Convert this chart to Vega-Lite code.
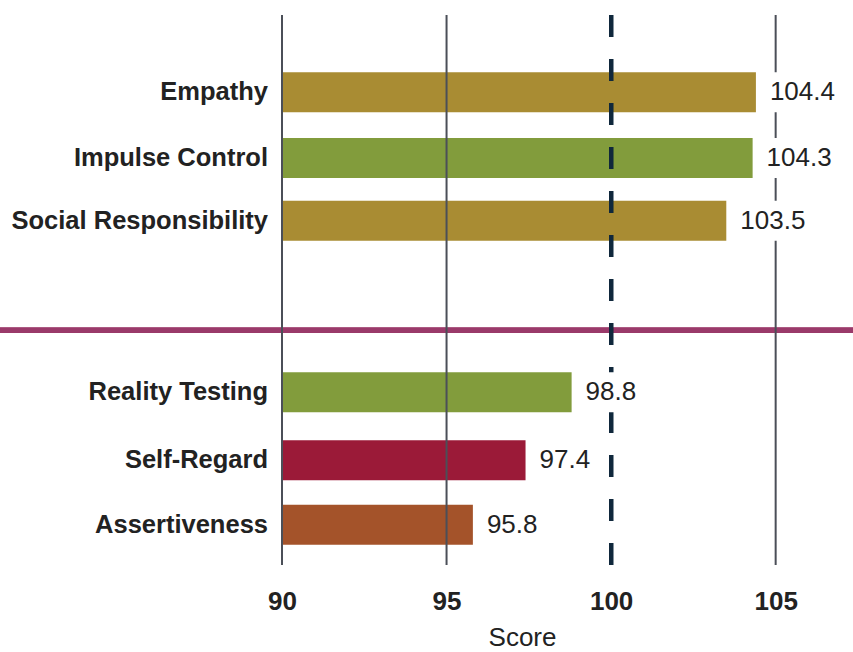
{
  "$schema": "https://vega.github.io/schema/vega-lite/v6.json",
  "autosize": {"type": "none"},
  "padding": {"left": 282, "top": 15, "right": 0, "bottom": 87},
  "width": 571,
  "height": 550,
  "background": "white",
  "config": {"view": {"stroke": null}, "font": "Liberation Sans"},
  "datasets": {
    "scores": [
      {"scale": "Empathy", "composite": "Interpersonal", "score": 104.4, "pos": 1},
      {"scale": "Impulse Control", "composite": "Decision Making", "score": 104.3, "pos": 2},
      {"scale": "Social Responsibility", "composite": "Interpersonal", "score": 103.5, "pos": 2.95},
      {"scale": "Reality Testing", "composite": "Decision Making", "score": 98.8, "pos": 5.55},
      {"scale": "Self-Regard", "composite": "Self-Perception", "score": 97.4, "pos": 6.58},
      {"scale": "Assertiveness", "composite": "Self-Expression", "score": 95.8, "pos": 7.56}
    ],
    "refs": [{"v": 90}, {"v": 95}, {"v": 105}]
  },
  "data": {"name": "scores"},
  "layer": [
    {
      "mark": {"type": "bar", "orient": "horizontal", "size": 40},
      "encoding": {
        "y": {"field": "pos", "type": "quantitative", "scale": {"domain": [-0.17, 8.17], "reverse": true, "nice": false, "zero": false, "padding": 0}, "axis": null},
        "x": {"field": "score", "type": "quantitative", "scale": {"domain": [90, 107.35], "nice": false, "zero": false, "padding": 0},
              "axis": {"values": [90, 95, 100, 105], "domain": false, "ticks": false, "grid": false, "labelFlush": false, "labelFont": "Liberation Sans", "labelFontSize": 26, "labelFontWeight": "bold", "labelColor": "#222222", "labelPadding": 23, "title": "Score", "titleX": 240, "titleFont": "Liberation Sans", "titleFontSize": 26, "titleFontWeight": "normal", "titleColor": "#222222", "titlePadding": 10}},
        "x2": {"datum": 90},
        "color": {"field": "composite", "type": "nominal", "legend": null,
                  "scale": {"domain": ["Interpersonal", "Decision Making", "Self-Perception", "Self-Expression"], "range": ["#A98C33", "#829C3C", "#9B1A38", "#A4532A"]}}
      }
    },
    {
      "mark": {"type": "rule", "color": "#9A3A6A", "strokeWidth": 5},
      "encoding": {"y": {"datum": 4.61}, "x": {"datum": 81.43}, "x2": {"datum": 107.35}}
    },
    {
      "data": {"name": "refs"},
      "mark": {"type": "rule", "color": "#4B4F58", "strokeWidth": 2},
      "encoding": {"x": {"field": "v", "type": "quantitative"}}
    },
    {
      "mark": {"type": "rule", "color": "#10283C", "strokeWidth": 4, "strokeDash": [22, 22]},
      "encoding": {"x": {"datum": 100}}
    },
    {
      "mark": {"type": "point", "shape": "M0.3,-1H4V1H0.3Z", "size": 1600, "filled": true, "fill": "white", "stroke": null, "opacity": 1},
      "encoding": {
        "x": {"field": "score", "type": "quantitative"},
        "y": {"field": "pos", "type": "quantitative"}
      }
    },
    {
      "mark": {"type": "text", "align": "left", "baseline": "middle", "dx": 14, "fontSize": 26, "font": "Liberation Sans", "color": "#222222"},
      "encoding": {
        "x": {"field": "score", "type": "quantitative"},
        "y": {"field": "pos", "type": "quantitative"},
        "text": {"field": "score", "type": "quantitative", "format": ".1f"}
      }
    },
    {
      "mark": {"type": "text", "align": "right", "baseline": "middle", "dx": -14, "fontSize": 25.5, "fontWeight": "bold", "font": "Liberation Sans", "color": "#222222"},
      "encoding": {
        "x": {"datum": 90},
        "y": {"field": "pos", "type": "quantitative"},
        "text": {"field": "scale", "type": "nominal"}
      }
    }
  ]
}
